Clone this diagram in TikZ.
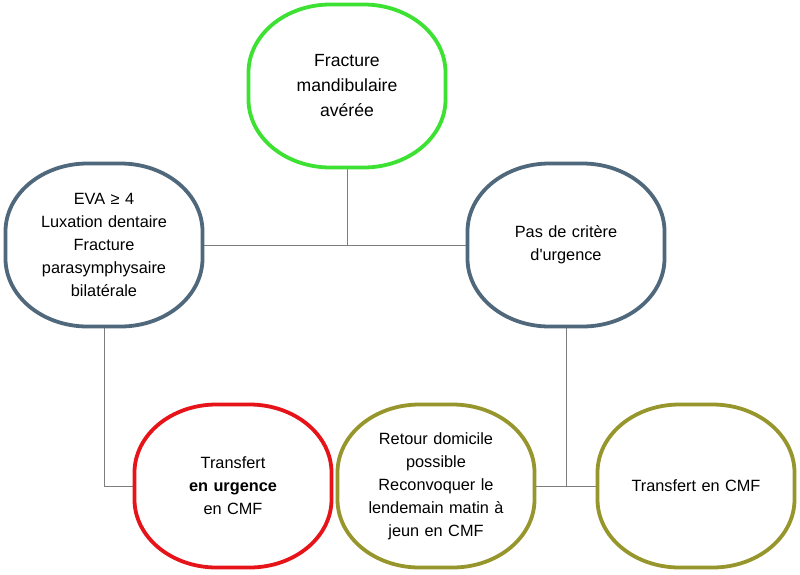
\documentclass[tikz,border=0pt]{standalone}
\usepackage{fontspec}
\setmainfont{Liberation Sans}
\definecolor{boxgreen}{RGB}{60,225,50}
\definecolor{boxslate}{RGB}{80,104,124}
\definecolor{boxred}{RGB}{230,20,25}
\definecolor{boxolive}{RGB}{150,150,45}
\definecolor{linkgray}{RGB}{125,125,125}
% frame with elliptic corners round a bubble node
\newcommand{\ovalframe}[2]{%
  \draw[#2,line width=3.8pt] ([xshift=82pt]#1.north west) -- ([xshift=-82pt]#1.north east)
    arc[start angle=90,end angle=0,x radius=82pt,y radius=68pt] -- ([yshift=68pt]#1.south east)
    arc[start angle=0,end angle=-90,x radius=82pt,y radius=68pt] -- ([xshift=82pt]#1.south west)
    arc[start angle=270,end angle=180,x radius=82pt,y radius=68pt] -- ([yshift=-68pt]#1.north west)
    arc[start angle=180,end angle=90,x radius=82pt,y radius=68pt] -- cycle;}
\begin{document}
\begin{tikzpicture}[
   x=1pt,y=-1pt,
   font=\fontsize{16.3}{23}\selectfont,
   bubble/.style={minimum width=197pt,minimum height=163pt,inner sep=0pt,outer sep=0pt,
                  text width=175pt,align=center},
   big/.style={font=\fontsize{17.6}{25}\selectfont},
   link/.style={draw=linkgray,line width=0.9pt}]
\useasboundingbox[fill=white] (0,0) rectangle (800,574);
% tree of decision
\node[bubble,big] (F) at (347,86) {Fracture\\mandibulaire\\avérée};
\node[bubble] (U) at (104,245) {EVA ≥ 4\\Luxation dentaire\\Fracture\\parasymphysaire\\bilatérale};
\node[bubble] (P) at (566,245) {Pas de critère\\d\textquotesingle urgence};
\node[bubble] (T) at (233,486) {Transfert\\\textbf{en urgence}\\en CMF};
\node[bubble] (R) at (436,486) {Retour domicile\\possible\\Reconvoquer le\\lendemain matin à\\jeun en CMF};
\node[bubble] (C) at (696,486) {Transfert en CMF};
\draw[link] (F.south) -- (F.south |- U.east);
\draw[link] (U.east) -- (P.west);
\draw[link] (U.south) |- (T.west);
\draw[link] (P.south) -- (P.south |- R.east);
\draw[link] (R.east) -- (C.west);
\ovalframe{F}{boxgreen}
\ovalframe{U}{boxslate}
\ovalframe{P}{boxslate}
\ovalframe{T}{boxred}
\ovalframe{R}{boxolive}
\ovalframe{C}{boxolive}
\end{tikzpicture}
\end{document}
